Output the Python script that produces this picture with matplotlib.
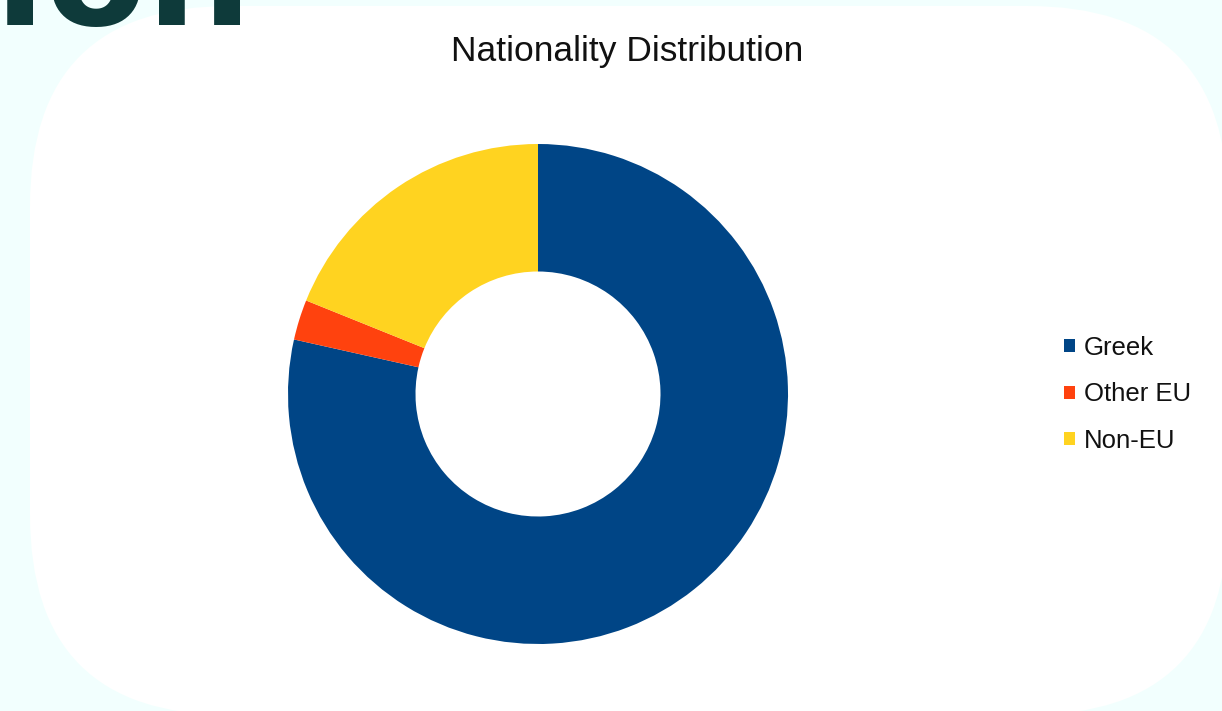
import matplotlib
matplotlib.use("Agg")
import matplotlib.pyplot as plt
from matplotlib.patches import FancyBboxPatch

# data
labels = ["Greek", "Other EU", "Non-EU"]
shares = [78.5, 2.6, 18.9]
colors = ["#004586", "#ff420e", "#ffd320"]

W, H = 1222, 711
fig = plt.figure(figsize=(W / 100, H / 100), dpi=100)
fig.patch.set_facecolor("#f2fffe")

# background panel, in pixel units
bg = fig.add_axes([0, 0, 1, 1])
bg.set_xlim(0, W)
bg.set_ylim(H, 0)
bg.axis("off")
bg.add_patch(FancyBboxPatch((30, 6), 1198, 709, boxstyle="round,pad=0,rounding_size=200",
                            facecolor="white", edgecolor="none"))

# heading of the slide, cut off by the top edge
bg.text(252, 25, "Distribution", ha="right", va="baseline", fontsize=106,
        fontweight="heavy", family="DejaVu Sans", color="#0e3a3a")

bg.text(627, 52, "Nationality Distribution", ha="center", va="center",
        fontsize=25.5, family="Liberation Sans", color="#111111")

# donut
cx, cy, R = 538, 394, 250
ax = fig.add_axes([(cx - R) / W, (H - cy - R) / H, 2 * R / W, 2 * R / H])
wedges, _ = ax.pie(shares, colors=colors, startangle=90, counterclock=False,
                   radius=1, wedgeprops=dict(width=0.51, linewidth=0))
ax.set_xlim(-1, 1)
ax.set_ylim(-1, 1)
ax.axis("off")

leg = fig.legend(wedges, labels, loc="upper left",
                 bbox_to_anchor=(1064 / W, 1 - 336 / H),
                 frameon=False, prop=dict(family="Liberation Sans", size=18.5),
                 handlelength=0.42, handleheight=0.42, handletextpad=0.35,
                 labelspacing=0.87, borderaxespad=0, borderpad=0)
for t in leg.get_texts():
    t.set_color("#111111")

fig.savefig("out.png", dpi=100, facecolor=fig.get_facecolor())
